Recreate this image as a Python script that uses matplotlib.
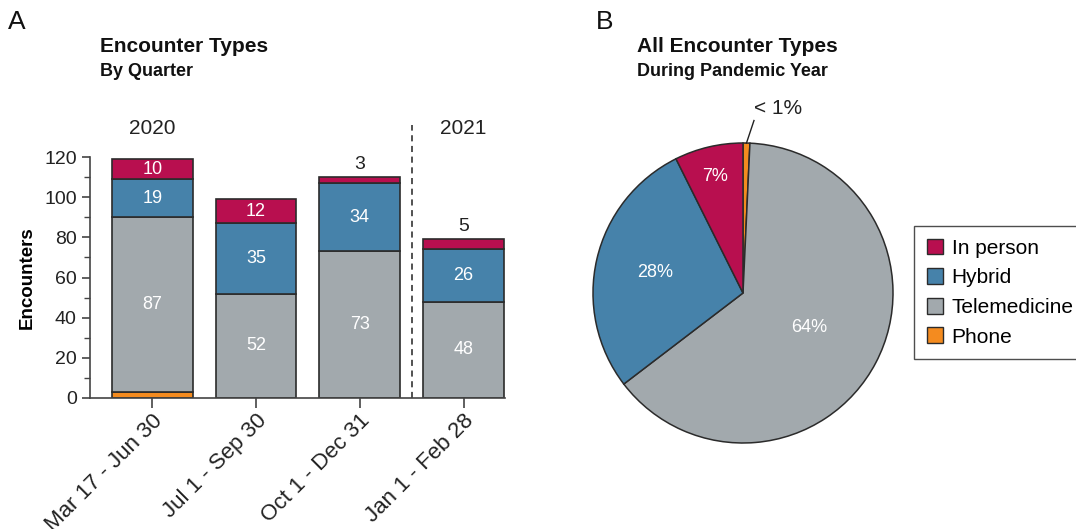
import matplotlib
matplotlib.use("Agg")
import matplotlib.pyplot as plt
import numpy as np
from matplotlib.patches import Patch

plt.rcParams['font.family'] = ['Liberation Sans', 'DejaVu Sans']

quarters = ["Mar 17 - Jun 30", "Jul 1 - Sep 30", "Oct 1 - Dec 31", "Jan 1 - Feb 28"]
phone = [3, 0, 0, 0]
telemedicine = [87, 52, 73, 48]
hybrid = [19, 35, 34, 26]
in_person = [10, 12, 3, 5]

pie_labels = ["Phone", "Telemedicine", "Hybrid", "In person"]
pie_values = [sum(phone), sum(telemedicine), sum(hybrid), sum(in_person)]
pie_text = ["< 1%", "64%", "28%", "7%"]

C_IN = "#B80F4F"
C_HY = "#4682AA"
C_TE = "#A2A9AD"
C_PH = "#F48B1F"
EDGE = "#2b2b2b"
TXT = "#222222"

fig = plt.figure(figsize=(10.76, 5.29), dpi=100)

# ---- Panel A ----
ax = fig.add_axes([90/1076, 1-398/529, 415/1076, 241/529])
x = np.arange(len(quarters))
w = 0.78
b0 = np.zeros(4)
ax.bar(x, phone, w, bottom=b0, color=C_PH, edgecolor=EDGE, linewidth=1.2)
b1 = b0 + np.array(phone)
ax.bar(x, telemedicine, w, bottom=b1, color=C_TE, edgecolor=EDGE, linewidth=1.2)
b2 = b1 + np.array(telemedicine)
ax.bar(x, hybrid, w, bottom=b2, color=C_HY, edgecolor=EDGE, linewidth=1.2)
b3 = b2 + np.array(hybrid)
ax.bar(x, in_person, w, bottom=b3, color=C_IN, edgecolor=EDGE, linewidth=1.2)
top = b3 + np.array(in_person)

fs = 13
for i in range(4):
    ax.text(x[i], b1[i] + telemedicine[i]/2, str(telemedicine[i]), ha='center', va='center', color='white', fontsize=fs)
    ax.text(x[i], b2[i] + hybrid[i]/2, str(hybrid[i]), ha='center', va='center', color='white', fontsize=fs)
    if in_person[i] >= 8:
        ax.text(x[i], b3[i] + in_person[i]/2, str(in_person[i]), ha='center', va='center', color='white', fontsize=fs)
    else:
        ax.text(x[i], top[i] + 2, str(in_person[i]), ha='center', va='bottom', color=TXT, fontsize=14)

ax.set_xlim(-0.6, 3.4)
ax.set_ylim(0, 120)
ax.set_yticks(np.arange(0, 121, 20))
ax.set_yticks(np.arange(0, 121, 10), minor=True)
ax.set_xticks(x)
ax.set_xticklabels(quarters, rotation=45, ha='right', rotation_mode='anchor', fontsize=16, color=TXT)
ax.tick_params(axis='y', labelsize=14, colors='#444444', labelcolor=TXT, length=6, width=1.2)
ax.tick_params(axis='y', which='minor', length=4, width=1.0, colors='#444444')
ax.tick_params(axis='x', length=7, width=1.2, colors='#444444', labelcolor=TXT, pad=2)
for s in ['top', 'right']:
    ax.spines[s].set_visible(False)
for s in ['left', 'bottom']:
    ax.spines[s].set_linewidth(1.2)
    ax.spines[s].set_color('#444444')
ax.set_ylabel("Encounters", fontsize=13.5, fontweight='bold', labelpad=6)

ax.vlines(2.5, 0, 136, colors=TXT, linestyles=(0, (4, 3)), linewidth=1.1, clip_on=False)
ax.text(0, 134, "2020", ha='center', va='center', fontsize=15, color=TXT)
ax.text(3, 134, "2021", ha='center', va='center', fontsize=15, color=TXT)

fig.text(100/1076, 1-47/529, "Encounter Types", fontsize=15, fontweight='bold', va='center', ha='left', color='#111111')
fig.text(100/1076, 1-71/529, "By Quarter", fontsize=13, fontweight='bold', va='center', ha='left', color='#111111')
fig.text(8/1076, 1-22/529, "A", fontsize=19, va='center', ha='left', color='#111111')

# ---- Panel B ----
axp = fig.add_axes([593/1076, 86/529, 300/1076, 300/529])
wedges, _ = axp.pie(pie_values, colors=[C_PH, C_TE, C_HY, C_IN], startangle=90, counterclock=False,
                    wedgeprops=dict(edgecolor=EDGE, linewidth=1.1))
axp.set_xlim(-1, 1)
axp.set_ylim(-1, 1)
axp.set_aspect('equal')
radii = [None, 0.5, 0.6, 0.8]
for wdg, txt, r in zip(wedges, pie_text, radii):
    mid = np.deg2rad((wdg.theta1 + wdg.theta2) / 2)
    if r is None:
        p0 = (np.cos(mid) * 1.0, np.sin(mid) * 1.0)
        axp.plot([p0[0], p0[0] + 0.05], [p0[1], p0[1] + 0.15], color=TXT, lw=1.0, clip_on=False)
        axp.text(p0[0] + 0.21, p0[1] + 0.23, txt, ha='center', va='center', fontsize=15, color=TXT)
    else:
        axp.text(np.cos(mid) * r, np.sin(mid) * r, txt, ha='center', va='center', fontsize=13, color='white')

fig.text(637/1076, 1-47/529, "All Encounter Types", fontsize=15, fontweight='bold', va='center', ha='left', color='#111111')
fig.text(637/1076, 1-71/529, "During Pandemic Year", fontsize=13, fontweight='bold', va='center', ha='left', color='#111111')
fig.text(596/1076, 1-22/529, "B", fontsize=19, va='center', ha='left', color='#111111')

handles = [Patch(facecolor=c, edgecolor=EDGE, linewidth=1.0) for c in [C_IN, C_HY, C_TE, C_PH]]
leg = fig.legend(handles, ["In person", "Hybrid", "Telemedicine", "Phone"], loc='upper left',
                 bbox_to_anchor=(914/1076, 1-226/529), fontsize=15, frameon=True, fancybox=False,
                 edgecolor=TXT, handlelength=0.8, handleheight=0.8, handletextpad=0.4,
                 labelspacing=0.5, borderpad=0.6, borderaxespad=0)
leg.get_frame().set_linewidth(1.0)

fig.savefig("out.png", dpi=100)
